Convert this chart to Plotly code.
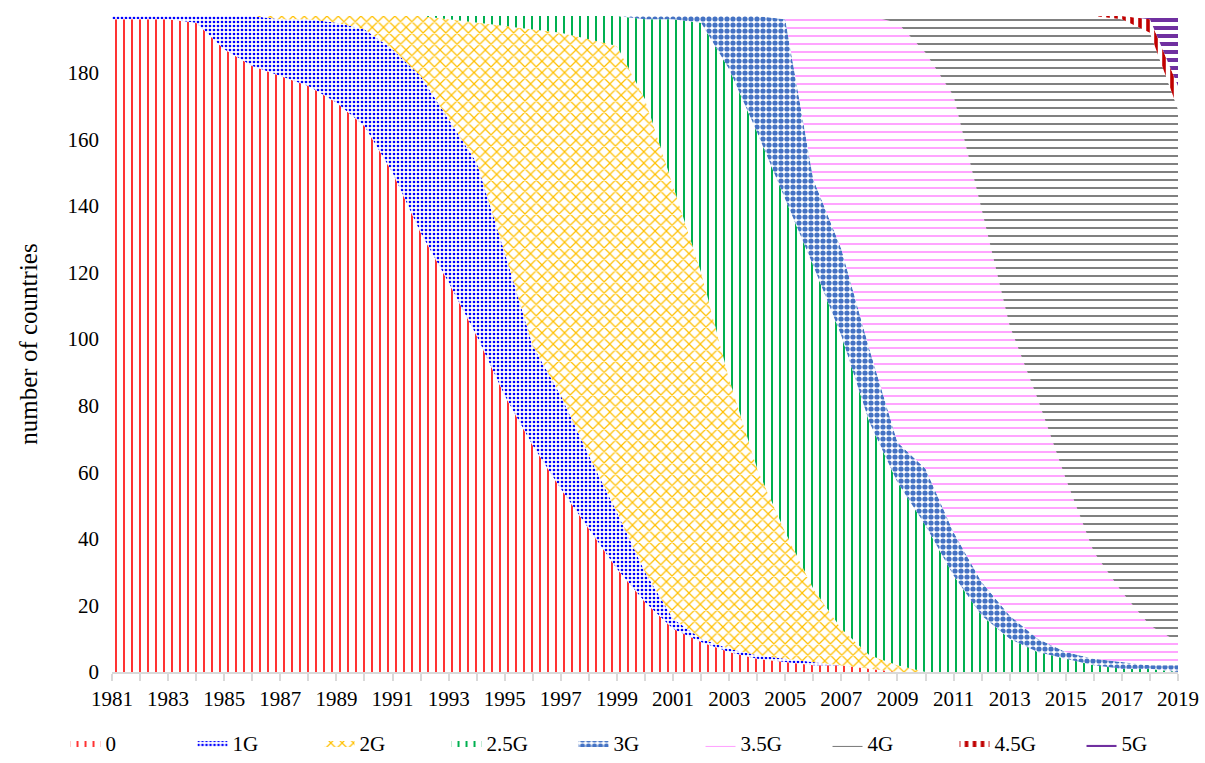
import plotly.graph_objects as go

years = list(range(1981, 2020))

# number of countries per generation (stacked), 1981..2019
g0   = [196,196,196,195,187,182,179,176,171,164,150,132,117,101,83,68,55,43,31,21,13,9,6,4,3,2,2,1,0,0,0,0,0,0,0,0,0,0,0]
g1   = [1,1,1,2,10,15,17,20,24,29,37,47,49,52,43,30,28,22,17,9,3,1,1,1,1,1,0,0,0,0,0,0,0,0,0,0,0,0,0]
g2   = [0,0,0,0,0,0,1,1,2,4,10,18,30,42,68,95,109,125,140,142,130,110,81,56,38,22,11,4,2,0,0,0,0,0,0,0,0,0,0]
g25  = [0,0,0,0,0,0,0,0,0,0,0,0,1,2,3,4,5,7,9,24,50,75,93,101,100,97,88,70,55,44,29,17,10,6,4,2,1,1,0]
g3   = [0,0,0,0,0,0,0,0,0,0,0,0,0,0,0,0,0,0,0,1,1,2,16,35,54,26,26,22,12,17,13,10,7,4,2,2,2,1,2]
g35  = [0,0,0,0,0,0,0,0,0,0,0,0,0,0,0,0,0,0,0,0,0,0,0,0,1,49,70,100,126,125,131,112,87,72,52,32,21,12,7]
g4   = [0,0,0,0,0,0,0,0,0,0,0,0,0,0,0,0,0,0,0,0,0,0,0,0,0,0,0,0,2,11,24,58,93,115,139,161,172,178,160]
g45  = [0,0,0,0,0,0,0,0,0,0,0,0,0,0,0,0,0,0,0,0,0,0,0,0,0,0,0,0,0,0,0,0,0,0,0,0,1,4,7]
g5   = [0,0,0,0,0,0,0,0,0,0,0,0,0,0,0,0,0,0,0,0,0,0,0,0,0,0,0,0,0,0,0,0,0,0,0,0,0,1,21]

series_names = ["0", "1G", "2G", "2.5G", "3G", "3.5G", "4G", "4.5G", "5G"]
series_values = [g0, g1, g2, g25, g3, g35, g4, g45, g5]

tick_years = [1981,1983,1985,1987,1989,1991,1993,1995,1997,1999,2001,2003,2005,2007,2009,2011,2013,2015,2017,2019]
tick_text = ["1981","1983","1985","1987","1989","1991","1993","1995","1997","1999",
             "2001","2003","2005","2007","2009","2011","2013","2015","2017","2019"]
y_ticks = [0,20,40,60,80,100,120,140,160,180]

styles = [
    dict(shape="|", fg="#FF0000", size=8, sol=0.2),
    dict(shape=".", fg="#0000FF", size=4, sol=0.35),
    dict(shape="x", fg="#FFC000", size=8, sol=0.28),
    dict(shape="|", fg="#00B050", size=8, sol=0.25),
    dict(shape=".", fg="#4472C4", size=6, sol=0.6),
    dict(shape="-", fg="#FF99FF", size=8, sol=0.22),
    dict(shape="-", fg="#808080", size=8, sol=0.25),
    dict(shape="|", fg="#C00000", size=8, sol=0.45),
    dict(shape="-", fg="#7030A0", size=8, sol=0.5),
]

fig = go.Figure()
for name, vals, st in zip(series_names, series_values, styles):
    fig.add_trace(go.Scatter(
        x=years, y=vals, name=name, stackgroup="one", mode="lines",
        line=dict(width=0, color=st["fg"]),
        fillcolor="rgba(255,255,255,0)",
        fillpattern=dict(shape=st["shape"], fgcolor=st["fg"], bgcolor="white",
                         size=st["size"], solidity=st["sol"], fillmode="replace"),
    ))

font_family = "Liberation Serif, Times New Roman, serif"
fig.update_layout(
    width=1205, height=763,
    margin=dict(l=112, r=27, t=16, b=91, autoexpand=False),
    paper_bgcolor="white", plot_bgcolor="white",
    font=dict(family=font_family, size=21, color="black"),
    showlegend=True,
    legend=dict(orientation="h", x=-0.0436, xanchor="left", y=-0.0774, yanchor="top",
                traceorder="normal", entrywidth=82, entrywidthmode="pixels",
                font=dict(family=font_family, size=21, color="black")),
    xaxis=dict(range=[1981, 2019], tickvals=tick_years, ticktext=tick_text,
               automargin=False,
               showgrid=False, zeroline=False, showline=True, linecolor="#D9D9D9",
               linewidth=1.5, ticks="outside", ticklen=7, tickcolor="#D9D9D9",
               tickwidth=1.5,
               minor=dict(dtick=1, tick0=1981, ticks="outside", ticklen=7,
                          tickcolor="#D9D9D9", tickwidth=1.5, showgrid=False),
               tickfont=dict(size=21)),
    yaxis=dict(range=[0, 197], tickvals=y_ticks, showgrid=False, zeroline=False,
               automargin=False, ticklabelstandoff=12,
               showline=False, ticks="", tickfont=dict(size=21),
               title=dict(text="number of countries", font=dict(size=25), standoff=22)),
)

fig.write_html("out.html", config={"displayModeBar": False},
               post_script="document.body.style.margin='0';document.body.style.overflow='hidden';")
